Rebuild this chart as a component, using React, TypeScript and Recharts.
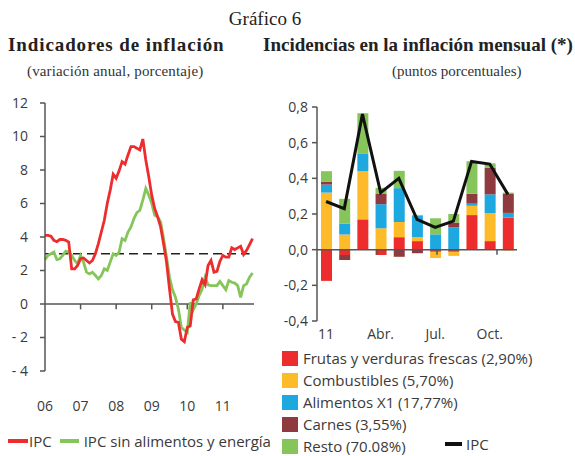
import React from 'react';
import { LineChart, ComposedChart, Line, Bar, XAxis, YAxis, ReferenceLine } from 'recharts';

// variación anual mensual, ene-06 a nov-11
const ipc = [
  4.1, 4.1, 4.05, 3.8, 3.72, 3.85, 3.85, 3.8, 3.7, 2.1, 2.1, 2.3,
  2.7, 2.75, 2.6, 2.45, 2.6, 3.0, 3.6, 4.3, 5.0, 6.0, 6.8, 7.75,
  7.5, 7.95, 8.5, 8.35, 8.9, 9.4, 9.4, 9.3, 9.2, 9.85, 8.6, 7.6,
  6.5, 5.7, 5.2, 4.6, 3.6, 2.5, 0.9, -0.6, -1.05, -1.1, -2.1, -2.25,
  -1.4, -1.3, 0.25, 0.3, 0.9, 1.45, 1.15, 2.3, 2.6, 1.9, 1.95, 2.55,
  2.9, 2.8, 2.8, 3.35, 3.25, 3.35, 3.45, 2.95, 3.2, 3.55, 3.9,
];
const ipcSae = [
  2.65, 2.9, 3.0, 3.1, 2.65, 2.7, 2.9, 3.15, 3.1, 2.9, 2.6, 2.4,
  2.9, 2.5, 1.9, 1.8, 1.9, 1.7, 1.5, 1.7, 2.1, 2.0, 2.5, 3.0,
  2.9, 3.1, 3.9, 3.8, 4.3, 4.6, 5.1, 5.45, 5.6, 6.2, 6.9, 6.5,
  6.0, 5.3, 5.2, 4.9, 3.9, 2.8, 1.6, 0.85, 0.4, -0.3, -1.4, -1.55,
  -1.7, 0.1, -0.35, 0.0, 0.5, 0.9, 1.6, 1.15, 1.1, 1.1, 1.1, 1.35,
  1.1, 0.85, 1.4, 1.3, 1.25, 1.1, 0.4, 1.1, 1.2, 1.6, 1.85,
];
const yearTicks = [0, 12, 24, 36, 48, 60];
const yearLabels = ['06', '07', '08', '09', '10', '11'];
const meta = 3;

// incidencias mensuales 2011
const meses = ['Ene.', 'Feb.', 'Mar.', 'Abr.', 'May.', 'Jun.', 'Jul.', 'Ago.', 'Sep.', 'Oct.', 'Nov.'];
const mesTicks = ['Ene.', 'Abr.', 'Jul.', 'Oct.'];
const mesLabels = ['11', 'Abr.', 'Jul.', 'Oct.'];
const frutas = [-0.175, -0.03, 0.17, -0.03, 0.07, 0.048, -0.012, -0.012, 0.194, 0.048, 0.18];
const combustibles = [0.32, 0.085, 0.27, 0.12, 0.085, 0.022, -0.035, -0.023, 0.052, 0.157, -0.005];
const alimentos = [0.045, 0.06, 0.1, 0.135, 0.19, 0.12, 0.086, 0.125, 0.012, 0.105, 0.026];
const carnes = [0.015, -0.028, 0, 0.06, -0.04, -0.02, 0, 0.027, 0.056, 0.15, 0.106];
const resto = [0.06, 0.14, 0.225, 0.032, 0.097, 0.005, 0.09, 0.048, 0.182, 0.024, 0.008];
const ipcMensual = [0.27, 0.23, 0.76, 0.32, 0.4, 0.17, 0.125, 0.16, 0.495, 0.48, 0.31];
const boundaryTicks = [3, 6, 9];

const RED = '#ED2D2D';
const GREEN = '#86C55A';
const YELLOW = '#FDBB2A';
const BLUE = '#1DA8E0';
const BROWN = '#8E3A3E';
const AXIS = '#555';
const TXT = '#3a3a3a';
const SANS = '"Open Sans", sans-serif';
const SERIF = '"Liberation Serif", serif';

const leftData = ipc.map((v, i) => ({ m: i, ipc: v, sae: ipcSae[i] }));
const rightData = meses.map((mes, i) => ({
  mes,
  frutas: frutas[i],
  combustibles: combustibles[i],
  alimentos: alimentos[i],
  carnes: carnes[i],
  resto: resto[i],
  ipc: ipcMensual[i],
}));

const tickStyle = { fill: TXT, fontSize: 14, fontFamily: SANS };

const abs: React.CSSProperties = { position: 'absolute', whiteSpace: 'nowrap' };

const rightLegend = [
  { color: RED, label: 'Frutas y verduras frescas (2,90%)' },
  { color: YELLOW, label: 'Combustibles (5,70%)' },
  { color: BLUE, label: 'Alimentos X1 (17,77%)' },
  { color: BROWN, label: 'Carnes (3,55%)' },
  { color: GREEN, label: 'Resto (70.08%)' },
];

export default function App() {
  return (
    <div style={{ position: 'absolute', left: 0, top: 0, width: 575, height: 456, overflow: 'hidden', background: '#fff' }}>
      <div style={{ ...abs, left: 0, width: 530, top: 9, textAlign: 'center', fontFamily: SERIF, fontSize: 19, lineHeight: 1, color: '#222' }}>
        Gráfico 6
      </div>
      <div style={{ ...abs, left: 8, top: 35, fontFamily: SERIF, fontWeight: 'bold', fontSize: 19, letterSpacing: 0.9, lineHeight: 1, color: '#222' }}>
        Indicadores de inflación
      </div>
      <div style={{ ...abs, left: 27, top: 64, fontFamily: SERIF, fontSize: 15, letterSpacing: 0.15, lineHeight: 1, color: '#333' }}>
        (variación anual, porcentaje)
      </div>
      <div style={{ ...abs, left: 263, top: 35, fontFamily: SERIF, fontWeight: 'bold', fontSize: 19, lineHeight: 1, color: '#222' }}>
        Incidencias en la inflación mensual (*)
      </div>
      <div style={{ ...abs, left: 392, top: 64, fontFamily: SERIF, fontSize: 15, lineHeight: 1, color: '#333' }}>
        (puntos porcentuales)
      </div>

      <div style={{ position: 'absolute', left: 0, top: 90 }}>
        <LineChart width={270} height={326} data={leftData} margin={{ top: 13, right: 16, bottom: 0, left: 0 }}>
          <XAxis
            dataKey="m"
            type="number"
            domain={[0, 70.5]}
            ticks={yearTicks}
            tickFormatter={(v: number) => yearLabels[yearTicks.indexOf(v)]}
            axisLine={false}
            tickLine={false}
            tickSize={0}
            tickMargin={30}
            height={45}
            tick={tickStyle}
          />
          <YAxis
            type="number"
            domain={[-4, 12]}
            ticks={[-4, -2, 0, 2, 4, 6, 8, 10, 12]}
            tickFormatter={(v: number) => (v < 0 ? '- ' + Math.abs(v) : String(v))}
            width={45}
            stroke={AXIS}
            strokeWidth={1.5}
            tickSize={5}
            tickMargin={12}
            tick={tickStyle}
          />
          <ReferenceLine y={0} stroke={AXIS} strokeWidth={1.5} />
          {yearTicks.slice(1).map((t) => (
            <ReferenceLine key={t} segment={[{ x: t, y: 0 }, { x: t, y: -0.32 }]} stroke={AXIS} strokeWidth={1.5} />
          ))}
          <ReferenceLine segment={[{ x: 0, y: meta }, { x: 69, y: meta }]} stroke="#222" strokeWidth={1.5} strokeDasharray="9 5" />
          <Line type="linear" dataKey="sae" stroke={GREEN} strokeWidth={2.8} dot={false} isAnimationActive={false} />
          <Line type="linear" dataKey="ipc" stroke={RED} strokeWidth={2.8} dot={false} isAnimationActive={false} />
        </LineChart>
      </div>

      <div style={{ ...abs, left: 8, top: 431, display: 'flex', alignItems: 'center', fontFamily: SANS, fontSize: 15, color: TXT, lineHeight: '20px' }}>
        <span style={{ display: 'inline-block', width: 20, height: 3.5, background: RED, marginRight: 1 }} />
        <span>IPC</span>
        <span style={{ display: 'inline-block', width: 19, height: 3.5, background: GREEN, marginLeft: 8, marginRight: 5 }} />
        <span>IPC sin alimentos y energía</span>
      </div>

      <div style={{ position: 'absolute', left: 270, top: 90 }}>
        <ComposedChart width={305} height={261} data={rightData} stackOffset="sign" margin={{ top: 17, right: 58, bottom: 0, left: 0 }}>
          <XAxis
            dataKey="mes"
            ticks={mesTicks}
            tickFormatter={(v: string) => mesLabels[mesTicks.indexOf(v)]}
            interval={0}
            axisLine={false}
            tickLine={false}
            tickSize={0}
            tickMargin={8}
            height={30}
            tick={tickStyle}
          />
          <XAxis xAxisId="n" type="number" domain={[0, 11]} hide />
          <YAxis
            type="number"
            domain={[-0.4, 0.8]}
            ticks={[-0.4, -0.2, 0, 0.2, 0.4, 0.6, 0.8]}
            tickFormatter={(v: number) => v.toFixed(1).replace('.', ',')}
            width={47}
            stroke={AXIS}
            strokeWidth={1.5}
            tickSize={5}
            tickMargin={4}
            tick={tickStyle}
          />
          <Bar dataKey="frutas" stackId="a" fill={RED} barSize={11} isAnimationActive={false} />
          <Bar dataKey="combustibles" stackId="a" fill={YELLOW} barSize={11} isAnimationActive={false} />
          <Bar dataKey="alimentos" stackId="a" fill={BLUE} barSize={11} isAnimationActive={false} />
          <Bar dataKey="carnes" stackId="a" fill={BROWN} barSize={11} isAnimationActive={false} />
          <Bar dataKey="resto" stackId="a" fill={GREEN} barSize={11} isAnimationActive={false} />
          <ReferenceLine y={0} stroke={AXIS} strokeWidth={1.5} />
          {boundaryTicks.map((t) => (
            <ReferenceLine key={t} xAxisId="n" segment={[{ x: t, y: 0 }, { x: t, y: -0.028 }]} stroke={AXIS} strokeWidth={1.5} />
          ))}
          <Line type="linear" dataKey="ipc" stroke="#111" strokeWidth={3} dot={false} isAnimationActive={false} />
        </ComposedChart>
      </div>

      <div style={{ ...abs, left: 282, top: 347, fontFamily: SANS, fontSize: 15, color: TXT, lineHeight: '20px' }}>
        {rightLegend.map((r) => (
          <div key={r.label} style={{ display: 'flex', alignItems: 'center', height: 22 }}>
            <span style={{ display: 'inline-block', width: 16, height: 15, background: r.color, marginRight: 5 }} />
            <span>{r.label}</span>
          </div>
        ))}
      </div>
      <div style={{ ...abs, left: 445, top: 434, display: 'flex', alignItems: 'center', fontFamily: SANS, fontSize: 15, color: TXT, lineHeight: '20px' }}>
        <span style={{ display: 'inline-block', width: 17, height: 3.5, background: '#111', marginRight: 4 }} />
        <span>IPC</span>
      </div>
    </div>
  );
}
